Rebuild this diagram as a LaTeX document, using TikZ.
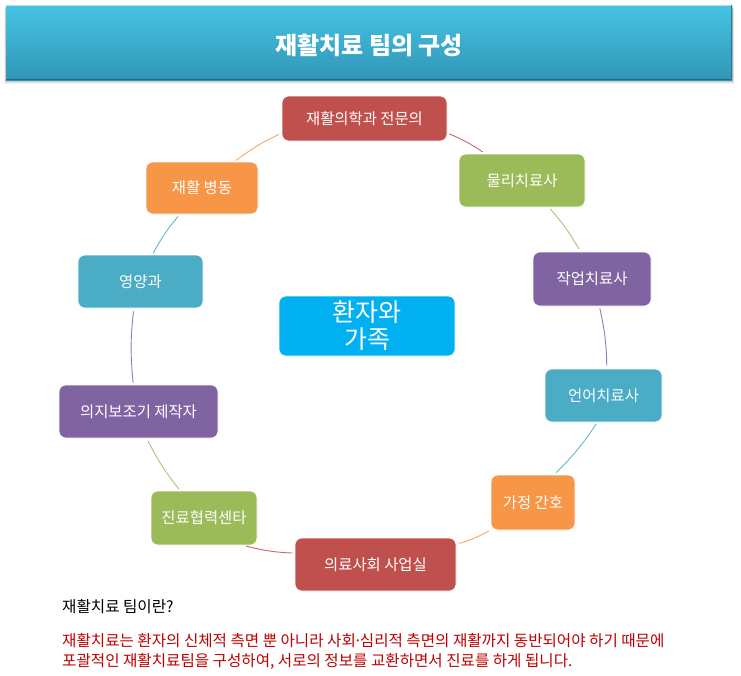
\documentclass[tikz,border=0pt]{standalone}
\usepackage{fontspec}
\setmainfont{Noto Sans CJK KR}
\usetikzlibrary{calc}
\definecolor{cred}{HTML}{C0504D}
\definecolor{cgreen}{HTML}{9BBB59}
\definecolor{cpurple}{HTML}{8064A2}
\definecolor{cteal}{HTML}{4BACC6}
\definecolor{corange}{HTML}{F79646}
\definecolor{ccenter}{HTML}{00B0F0}
\definecolor{ctextred}{HTML}{C00000}
\definecolor{bartop}{HTML}{46C4E4}
\definecolor{barbot}{HTML}{3196B7}
\begin{document}
\begin{tikzpicture}[x=1pt,y=1pt,
  box/.style n args={3}{rectangle, rounded corners=7pt, fill=#1, draw=white, line width=0.6pt,
    minimum width=#2, minimum height=#3, inner sep=0pt, text=white, font=\fontsize{15.4}{17}\selectfont},
  link/.style={draw=#1!85!white, line width=0.9pt, shorten <=2pt, shorten >=3pt, bend left=6},
  note/.style={anchor=west, inner sep=0pt, font=\fontsize{15.6}{17}\selectfont}
]
\useasboundingbox (0,0) rectangle (741,-675);
\fill[white] (0,0) rectangle (741,-675);
% title bar with soft shadow
\foreach \i/\o in {4/0.05,3/0.07,2/0.09,1/0.12}{
  \fill[black,opacity=\o] (6-0.5*\i,-5-\i) rectangle (732+0.5*\i,-80-\i);}
\node[name=title, rectangle, minimum width=726pt, minimum height=75pt, inner sep=0pt,
  top color=bartop, bottom color=barbot] at (369,-42.5) {};
\draw[bartop!45!white, line width=1.2pt] ([yshift=-0.6pt]title.north west) -- ([yshift=-0.6pt]title.north east);
\draw[barbot!70!black, line width=1.5pt] ([yshift=0.75pt]title.south west) -- ([yshift=0.75pt]title.south east);
\draw[barbot!80!black, line width=1pt] ([xshift=-0.5pt]title.north east) -- ([xshift=-0.5pt]title.south east);
\node[name=titletext, text=white, inner sep=0pt, font=\fontsize{24}{28}\selectfont\bfseries] at (369,-45) {재활치료 팀의 구성};

% cycle nodes
\node[box={cred}{165pt}{45pt}]    (A) at (364.5,-118.5) {재활의학과 전문의};
\node[box={cgreen}{126pt}{53pt}]  (B) at (522,-180.5) {물리치료사};
\node[box={cpurple}{118pt}{54pt}] (C) at (592,-279) {작업치료사};
\node[box={cteal}{117pt}{53pt}]   (D) at (603.5,-395.5) {언어치료사};
\node[box={corange}{84pt}{55pt}]  (E) at (533,-502.5) {가정 간호};
\node[box={cred}{161pt}{53pt}]    (F) at (375.5,-564.5) {의료사회 사업실};
\node[box={cgreen}{106pt}{54pt}]  (G) at (204,-518) {진료협력센타};
\node[box={cpurple}{159pt}{53pt}] (H) at (138.5,-411.5) {의지보조기 제작자};
\node[box={cteal}{125pt}{53pt}]   (I) at (140.5,-281.5) {영양과};
\node[box={corange}{112pt}{52pt}] (J) at (202,-188) {재활 병동};
\node[box={ccenter}{176pt}{60pt}, font=\fontsize{25}{27}\selectfont, align=center] (K) at (367,-326) {환자와\\가족};

% connectors
\draw[link=cred]    (A.-10)  to (B.144);
\draw[link=cgreen]  (B.-45)  to (C.113);
\draw[link=cpurple] (C.-75)  to (D.83);
\draw[link=cteal]   (D.-103) to (E.53);
\draw[link=corange] (E.-147) to (F.14);
\draw[link=cred]    (F.172)  to (G.-35);
\draw[link=cgreen]  (G.131)  to (H.-73);
\draw[link=cpurple] (H.101)  to (I.-104);
\draw[link=cteal]   (I.66)   to (J.-130);
\draw[link=corange] (J.39)   to (A.-170);

% notes
\node[note] (q) at (62,-607) {재활치료 팀이란?};
\node[note, text=ctextred] (r1) at (62,-641) {재활치료는 환자의 신체적 측면 뿐 아니라 사회\kern-0.15em·\kern-0.15em심리적 측면의 재활까지 동반되어야 하기 때문에};
\node[note, text=ctextred] (r2) at (62,-661) {포괄적인 재활치료팀을 구성하여, 서로의 정보를 교환하면서 진료를 하게 됩니다.};
\end{tikzpicture}
\end{document}
